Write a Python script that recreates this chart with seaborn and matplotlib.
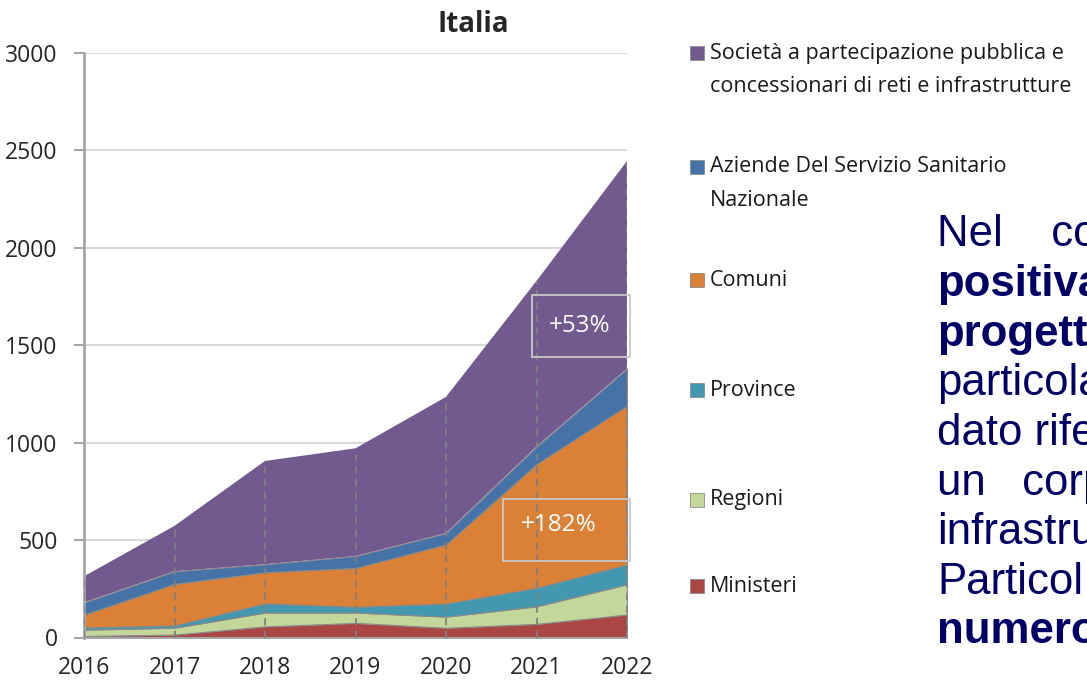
import numpy as np
import pandas as pd
import matplotlib
matplotlib.use("Agg")
import matplotlib.pyplot as plt
import seaborn as sns
from matplotlib.patches import Rectangle

# values (stacked, bottom to top)
years = [2016, 2017, 2018, 2019, 2020, 2021, 2022]
ministeri = [8, 15, 57, 75, 50, 70, 118]
regioni = [32, 35, 71, 53, 57, 90, 155]
province = [12, 12, 47, 30, 67, 95, 102]
comuni = [65, 213, 160, 199, 304, 635, 815]
aziende = [63, 65, 41, 61, 58, 90, 190]
societa = [134, 233, 530, 553, 699, 850, 1066]

series_names = ["Ministeri", "Regioni", "Province", "Comuni",
                "Aziende Del Servizio Sanitario\nNazionale",
                "Società a partecipazione pubblica e\nconcessionari di reti e infrastrutture"]
colors = ["#AA4643", "#C4D79B", "#4198AF", "#DA8137", "#4572A7", "#725A8E"]

text_lines = ["Nel    co", "positiva", "progett", "particola", "dato rife",
              "un   corp", "infrastru", "Particol", "numero"]
text_bold = [False, True, True, False, False, False, False, False, True]

df = pd.DataFrame({"Ministeri": ministeri, "Regioni": regioni,
                   "Province": province, "Comuni": comuni,
                   "Aziende": aziende, "Societa": societa}, index=years)

sns.set_style("white")
plt.rcParams['font.family'] = ['Open Sans', 'DejaVu Sans']

W, H = 1087, 681
fig = plt.figure(figsize=(W / 100, H / 100), dpi=100)
ax = fig.add_axes([84 / W, 1 - 637.5 / H, (627 - 84) / W, (637.5 - 53) / H])

polys = ax.stackplot(df.index, df.T.values, colors=colors, zorder=2)
for p in polys[:-1]:
    p.set_edgecolor("#8a8a8a")
    p.set_linewidth(0.8)
polys[-1].set_edgecolor("none")
polys[-1].set_linewidth(0)

ax.vlines(years, 0, df.sum(axis=1).values, colors="#808080",
          linestyles=(0, (4, 3)), lw=1.3, zorder=3)

ax.set_xlim(2016, 2022)
ax.set_ylim(0, 3000)
ax.set_xticks(years)
ax.set_yticks(range(0, 3001, 500))
ax.yaxis.grid(True, color="#d9d9d9", lw=1.5)
ax.xaxis.grid(False)
ax.set_axisbelow(True)
sns.despine(ax=ax)
ax.spines["left"].set_color("#a6a6a6")
ax.spines["left"].set_linewidth(2)
ax.spines["bottom"].set_color("#a6a6a6")
ax.spines["bottom"].set_linewidth(1.5)
ax.tick_params(axis="y", length=7, width=1.5, color="#a6a6a6", pad=12,
               labelsize=16.5, left=True)
ax.tick_params(axis="x", length=0, pad=13, labelsize=16.5)

# growth boxes
ax.add_patch(Rectangle((2020.95, 1440), 1.08, 318, fill=False, ec="#c8c8c8",
                       lw=1.3, clip_on=False, zorder=4))
ax.text(2021.48, 1600, "+53%", color="white", fontsize=17.5, ha="center",
        va="center", zorder=5)
ax.add_patch(Rectangle((2020.63, 393), 1.40, 318, fill=False, ec="#c8c8c8",
                       lw=1.3, clip_on=False, zorder=4))
ax.text(2021.24, 577, "+182%", color="white", fontsize=17.5, ha="center",
        va="center", zorder=5)

fig.text(473 / W, 1 - 25 / H, "Italia", fontsize=20, fontweight="bold",
         ha="center", va="center")

# legend drawn by hand (top entry first)
legend_y = [586, 500, 390, 280, 167, 53]
for name, col, yy in zip(series_names, colors, legend_y):
    fig.add_artist(Rectangle((690 / W, 1 - (yy + 7) / H), 14 / W, 14 / H,
                             fc=col, ec="#8c8c8c", lw=0.6,
                             transform=fig.transFigure))
    for i, line in enumerate(name.split("\n")):
        fig.text(710 / W, 1 - (yy + i * 33) / H, line, fontsize=15.5,
                 color="#1a1a1a", va="center", ha="left")

for i, (line, bold) in enumerate(zip(text_lines, text_bold)):
    fig.text(937 / W, 1 - (235 + i * 49.6) / H, line, fontsize=31.5,
             color="#000066", fontweight="bold" if bold else "normal",
             family=["Liberation Sans", "DejaVu Sans"], va="center", ha="left")

fig.savefig("out.png", dpi=100)
